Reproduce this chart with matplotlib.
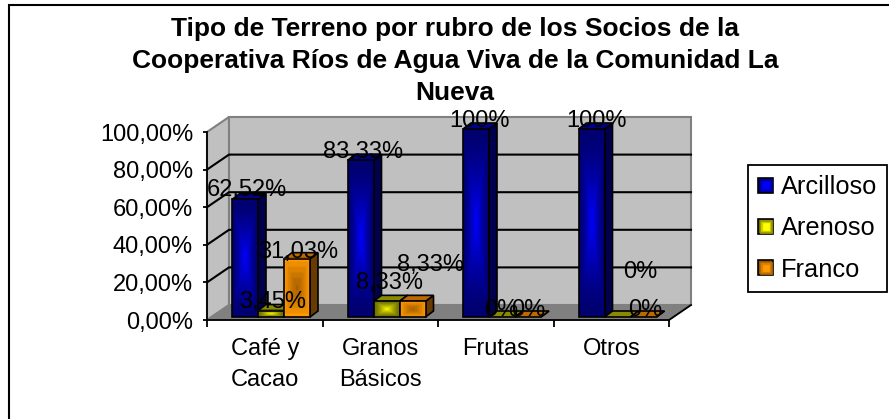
import numpy as np
import matplotlib
matplotlib.use('Agg')
import matplotlib.pyplot as plt
from matplotlib.patches import Polygon, Rectangle
from matplotlib.legend_handler import HandlerBase

WIDTH = 889
HEIGHT = 419

categories = ['Café y\nCacao', 'Granos\nBásicos', 'Frutas', 'Otros']
series_names = ['Arcilloso', 'Arenoso', 'Franco']
arcilloso = [62.52, 83.33, 100, 100]
arenoso = [3.45, 8.33, 0, 0]
franco = [31.03, 8.33, 0, 0]
labels_arcilloso = ['62,52%', '83,33%', '100%', '100%']
labels_arenoso = ['3,45%', '8,33%', '0%', '0%']
labels_franco = ['31,03%', '8,33%', '0%', '0%']
y_ticks = [0, 20, 40, 60, 80, 100]
y_tick_labels = ['0,00%', '20,00%', '40,00%', '60,00%', '80,00%', '100,00%']

plt.rcParams['font.family'] = ['Liberation Sans', 'DejaVu Sans']

FONT = 17

# depth of the wall and of the bars, in data units
WALL_DX = 22 / 115.5
WALL_DY = 15 / 1.88
BAR_DX = 8 / 115.5
BAR_DY = 6 / 1.88
BAR_X = 25 / 115.5
BAR_W = 26 / 115.5
BAR_Y = 3 / 1.88

colors = {
    'Arcilloso': ((0, 0, 110), (0, 0, 255)),
    'Arenoso': ((110, 110, 0), (255, 255, 0)),
    'Franco': ((150, 85, 0), (255, 153, 0)),
}


def gradient(ax, x0, x1, y0, y1, dark, light, name, z=5):
    """
    Fills a rectangle with a path gradient, franco is dark in the middle.
    """
    n = 33
    t = 1 - np.abs(np.linspace(-1, 1, n))
    tx, ty = np.meshgrid(t, t)
    t = np.minimum(tx, ty)
    if name == 'Franco':
        t = np.round((1 - t * 0.85) * 6) / 6
    else:
        t = t ** 1.4
    dark = np.array(dark) / 255
    light = np.array(light) / 255
    img = dark + (light - dark) * t[..., np.newaxis]
    ax.imshow(img, extent=(x0, x1, y0, y1), aspect='auto', origin='lower',
              interpolation='bilinear', zorder=z, clip_on=False)


def draw_bar(ax, x, value, name, z):
    """
    Draws one 3d looking bar out of a front, a top and a side.
    """
    dark, light = colors[name]
    x1 = x + BAR_W
    top = value + BAR_Y
    side = [(x1, BAR_Y), (x1 + BAR_DX, BAR_Y + BAR_DY), (x1 + BAR_DX, top + BAR_DY), (x1, top)]
    lid = [(x, top), (x + BAR_DX, top + BAR_DY), (x1 + BAR_DX, top + BAR_DY), (x1, top)]
    side_color = np.array(dark) / 255 * 0.7
    ax.add_patch(Polygon(side, facecolor=side_color, edgecolor='black', lw=1.2, zorder=z, clip_on=False))
    ax.add_patch(Polygon(lid, facecolor=np.array(dark) / 255 * 1.25, edgecolor='black', lw=1.2,
                         zorder=z, clip_on=False))
    if value > 0:
        gradient(ax, x, x1, BAR_Y, top, dark, light, name, z)
        ax.add_patch(Rectangle((x, BAR_Y), BAR_W, value, fill=False, edgecolor='black', lw=1.2,
                               zorder=z + 0.1, clip_on=False))


class GradientHandler(HandlerBase):
    def create_artists(self, legend, orig, xd, yd, w, h, fontsize, trans):
        dark, light = colors[orig.get_label()]
        s = 11
        x = xd + w - s
        y = yd + h / 2 - s / 2
        artists = []
        for i in range(4):
            c = (np.array(dark) + (np.array(light) - np.array(dark)) * i / 3) / 255
            artists.append(Rectangle((x + i * 1.1, y + i * 1.1), s - i * 2.2, s - i * 2.2,
                                     facecolor=c, edgecolor='black' if i == 0 else c,
                                     lw=1.2 if i == 0 else 0.5, transform=trans))
        return artists


fig = plt.figure(figsize=(WIDTH / 100, HEIGHT / 100), dpi=100)
# outer frame runs off the picture on the right and at the bottom
fig.add_artist(Rectangle((9 / WIDTH, -0.1), 1.1, 1.1 - 5 / HEIGHT,
                         fill=False, edgecolor='black', lw=1.5, transform=fig.transFigure))

ax = fig.add_axes([207 / WIDTH, (HEIGHT - 320) / HEIGHT, 462 / WIDTH, 188 / HEIGHT])
ax.patch.set_alpha(0)
for side in ['top', 'right']:
    ax.spines[side].set_visible(False)
ax.spines['left'].set_linewidth(1.3)
ax.spines['bottom'].set_linewidth(1.3)
ax.spines['left'].set_zorder(3)
ax.spines['bottom'].set_zorder(3)

# walls and floor
ax.add_patch(Polygon([(0, 0), (WALL_DX, WALL_DY), (WALL_DX, 100 + WALL_DY), (0, 100)],
                     facecolor='#c0c0c0', edgecolor='#808080', lw=1.5, zorder=1, clip_on=False))
ax.add_patch(Rectangle((WALL_DX, WALL_DY), 4, 100, facecolor='#c0c0c0', edgecolor='#808080',
                       lw=1.5, zorder=1, clip_on=False))
ax.add_patch(Polygon([(0, 0), (WALL_DX, WALL_DY), (4 + WALL_DX, WALL_DY), (4, 0)],
                     facecolor='#808080', edgecolor='#808080', lw=1, zorder=1, clip_on=False))
for t in y_ticks[1:-1]:
    ax.plot([0, WALL_DX, 4 + WALL_DX], [t, t + WALL_DY, t + WALL_DY], color='black', lw=1.5,
            zorder=2, clip_on=False)
ax.plot([4, 4 + WALL_DX], [0, WALL_DY], color='black', lw=1.3, zorder=2, clip_on=False)

all_series = [arcilloso, arenoso, franco]
for i in range(len(categories)):
    for j, name in enumerate(series_names):
        draw_bar(ax, i + BAR_X + j * BAR_W, all_series[j][i], name, 5 + i + j * 0.2)

ax.set_xlim(0, 4)
ax.set_ylim(0, 100)
ax.set_xticks(range(5))
ax.set_xticklabels([])
ax.set_xticks(np.arange(4) + 0.5, categories, minor=True)
ax.set_yticks(y_ticks, y_tick_labels)
ax.tick_params(axis='x', which='major', length=5, width=1.3, direction='out')
ax.tick_params(axis='x', which='minor', length=0, labelsize=FONT, pad=12.6)
ax.tick_params(axis='y', length=3, width=1.3, labelsize=FONT, pad=7, direction='out')
for label in ax.get_xticklabels(minor=True):
    label.set_linespacing(1.58)

# data labels sit where the original left them, they do not follow a rule
pos_arcilloso = [(0.346, 69.1), (1.351, 89.4), (2.355, 105.9), (3.368, 105.9)]
pos_arenoso = [(0.571, 9.6), (1.576, 19.7), (2.545, 5.3), (3.749, 25.5)]
pos_franco = [(0.788, 36.2), (1.931, 29.3), (2.779, 5.3), (3.792, 5.3)]
for positions, texts in zip([pos_arcilloso, pos_arenoso, pos_franco],
                            [labels_arcilloso, labels_arenoso, labels_franco]):
    for (x, y), s in zip(positions, texts):
        ax.text(x, y, s, fontsize=FONT, ha='center', va='center', color='black', zorder=30, clip_on=False)

fig.text(455 / WIDTH, (HEIGHT - 61) / HEIGHT,
         'Tipo de Terreno por rubro de los Socios de la\n'
         'Cooperativa Ríos de Agua Viva de la Comunidad La\n'
         'Nueva', fontsize=19, fontweight='bold', ha='center', va='center', linespacing=1.42)

handles = [Rectangle((0, 0), 1, 1, label=name) for name in series_names]
leg = fig.legend(handles=handles, labels=series_names, handler_map={Rectangle: GradientHandler()},
                 loc='upper left', bbox_to_anchor=(748 / WIDTH, (HEIGHT - 165) / HEIGHT),
                 bbox_transform=fig.transFigure, frameon=True, fancybox=False, framealpha=1,
                 edgecolor='black', fontsize=18.3, labelspacing=0.68, handlelength=0.6,
                 handletextpad=0.3, borderpad=0.4, borderaxespad=0)
leg.get_frame().set_linewidth(1.3)

fig.savefig('out.png', dpi=100)
